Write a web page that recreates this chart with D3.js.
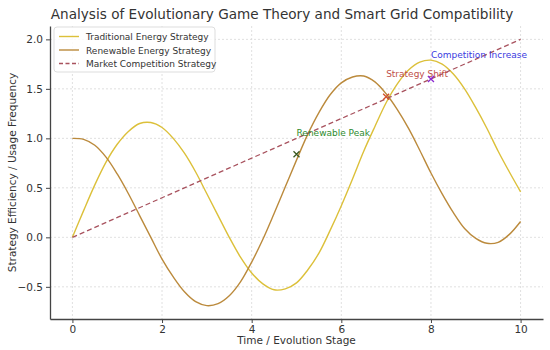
<!DOCTYPE html>
<html lang="en">
<head>
<meta charset="UTF-8">
<title>Evolutionary Game Theory and Smart Grid</title>
<style>
  body { margin: 0; background: #fff; }
  text { font-family: "DejaVu Sans", sans-serif; }
</style>
</head>
<body>
<script src="https://d3js.org/d3.v7.min.js"></script>
<div id="chart"></div>
<script>

// stages (time axis), sampled every 0.25
const stages = d3.range(41).map(i => i * 0.25);

const traditional = [0.00, 0.27, 0.53, 0.76, 0.94, 1.07, 1.15, 1.16, 1.11, 1.00,
  0.85, 0.66, 0.44, 0.22, 0.00, -0.20, -0.36, -0.47, -0.53, -0.52,
  -0.46, -0.33, -0.16, 0.07, 0.32, 0.59, 0.87, 1.12, 1.36, 1.55,
  1.69, 1.77, 1.79, 1.75, 1.65, 1.50, 1.31, 1.10, 0.87, 0.66, 0.46];

const renewable = [1.00, 0.99, 0.93, 0.81, 0.64, 0.44, 0.22, 0.00, -0.22, -0.40,
  -0.55, -0.65, -0.69, -0.67, -0.59, -0.45, -0.25, -0.02, 0.24, 0.51,
  0.78, 1.04, 1.26, 1.44, 1.56, 1.62, 1.63, 1.57, 1.45, 1.29,
  1.10, 0.88, 0.65, 0.44, 0.25, 0.09, -0.01, -0.06, -0.05, 0.03, 0.16];

const marketStages = [0, 2, 4, 6, 8, 10];
const market = [0.0, 0.4, 0.8, 1.2, 1.6, 2.0];

const xTicks = [0, 2, 4, 6, 8, 10];
const yTicks = [-0.5, 0.0, 0.5, 1.0, 1.5, 2.0];

// annotations : label, point marked, label position, colours
const notes = [
  {label: "Renewable Peak", px: 5, py: 0.84, tx: 5, ty: 1.02, color: "#2e8b2e", mark: "#3a5a20"},
  {label: "Strategy Shift", px: 7, py: 1.42, tx: 7, ty: 1.62, color: "#c0504a", mark: "#d0502a"},
  {label: "Competition Increase", px: 8, py: 1.6, tx: 8, ty: 1.81, color: "#3a3ae0", mark: "#8a2ad0"}
];

const width = 550, height = 350;
const margin = {top: 26, right: 7, bottom: 31, left: 50};

const svg = d3.select("#chart").append("svg")
  .attr("width", width)
  .attr("height", height);

const x = d3.scaleLinear()
  .domain([-0.5, 10.5])
  .range([margin.left, width - margin.right]);

const y = d3.scaleLinear()
  .domain([-0.825, 2.135])
  .range([height - margin.bottom, margin.top]);

// grid
svg.append("g")
  .selectAll("line")
  .data(xTicks)
  .join("line")
  .attr("x1", d => x(d)).attr("x2", d => x(d))
  .attr("y1", margin.top).attr("y2", height - margin.bottom)
  .attr("stroke", "#d8d8d8").attr("stroke-width", 0.8)
  .attr("stroke-dasharray", "2,2");

svg.append("g")
  .selectAll("line")
  .data(yTicks)
  .join("line")
  .attr("x1", margin.left).attr("x2", width - margin.right)
  .attr("y1", d => y(d)).attr("y2", d => y(d))
  .attr("stroke", "#d8d8d8").attr("stroke-width", 0.8)
  .attr("stroke-dasharray", "2,2");

// axes
const xAxis = svg.append("g")
  .attr("transform", `translate(0,${height - margin.bottom})`)
  .call(d3.axisBottom(x).tickValues(xTicks).tickFormat(d3.format("d"))
    .tickSize(4).tickSizeOuter(0).tickPadding(3));

const yAxis = svg.append("g")
  .attr("transform", `translate(${margin.left},0)`)
  .call(d3.axisLeft(y).tickValues(yTicks)
    .tickFormat(d => d < 0 ? "\u2212" + Math.abs(d).toFixed(1) : d.toFixed(1))
    .tickSize(4).tickSizeOuter(0).tickPadding(3));

[xAxis, yAxis].forEach(a => {
  a.select(".domain").attr("stroke", "#444").attr("stroke-width", 1.3);
  a.selectAll(".tick line").attr("stroke", "#444");
  a.selectAll(".tick text").attr("fill", "#333").style("font-size", "10.5px");
});

// lines
const line = d3.line()
  .x(d => x(d[0]))
  .y(d => y(d[1]))
  .curve(d3.curveCatmullRom);

svg.append("path")
  .datum(d3.zip(stages, traditional))
  .attr("fill", "none")
  .attr("stroke", "#dcc03a")
  .attr("stroke-width", 1.4)
  .attr("d", line);

svg.append("path")
  .datum(d3.zip(stages, renewable))
  .attr("fill", "none")
  .attr("stroke", "#bb8a3c")
  .attr("stroke-width", 1.4)
  .attr("d", line);

svg.append("path")
  .datum(d3.zip(marketStages, market))
  .attr("fill", "none")
  .attr("stroke", "#a8525e")
  .attr("stroke-width", 1.3)
  .attr("stroke-dasharray", "5,3")
  .attr("d", d3.line().x(d => x(d[0])).y(d => y(d[1])));

// annotations
const ann = svg.append("g");
notes.forEach(n => {
  const cx = x(n.px), cy = y(n.py), s = 3;
  ann.append("path")
    .attr("d", `M${cx - s},${cy - s}L${cx + s},${cy + s}M${cx - s},${cy + s}L${cx + s},${cy - s}`)
    .attr("stroke", n.mark).attr("stroke-width", 1.3);
  ann.append("text")
    .attr("x", x(n.tx)).attr("y", y(n.ty))
    .attr("fill", n.color)
    .style("font-size", "9px")
    .text(n.label);
});

// title and labels
svg.append("text")
  .attr("x", 282)
  .attr("y", 19)
  .attr("text-anchor", "middle")
  .attr("fill", "#333")
  .style("font-size", "13.6px")
  .text("Analysis of Evolutionary Game Theory and Smart Grid Compatibility");

svg.append("text")
  .attr("x", (margin.left + width - margin.right) / 2)
  .attr("y", 344)
  .attr("text-anchor", "middle")
  .attr("fill", "#333")
  .style("font-size", "10.5px")
  .text("Time / Evolution Stage");

svg.append("text")
  .attr("transform", `translate(16,${(margin.top + height - margin.bottom) / 2}) rotate(-90)`)
  .attr("text-anchor", "middle")
  .attr("fill", "#333")
  .style("font-size", "10.5px")
  .text("Strategy Efficiency / Usage Frequency");

// legend
const legendItems = [
  {name: "Traditional Energy Strategy", color: "#dcc03a", dash: null},
  {name: "Renewable Energy Strategy", color: "#bb8a3c", dash: null},
  {name: "Market Competition Strategy", color: "#a8525e", dash: "4,2.5"}
];

const legend = svg.append("g").attr("transform", "translate(54,27)");
legend.append("rect")
  .attr("width", 161).attr("height", 45).attr("rx", 3)
  .attr("fill", "#fff").attr("fill-opacity", 0.85)
  .attr("stroke", "#ddd");

legendItems.forEach((d, i) => {
  const g = legend.append("g").attr("transform", `translate(5,${9.5 + i * 13.5})`);
  g.append("line")
    .attr("x1", 0).attr("x2", 20)
    .attr("stroke", d.color).attr("stroke-width", 1.4)
    .attr("stroke-dasharray", d.dash);
  g.append("text")
    .attr("x", 27).attr("y", 3.5)
    .attr("fill", "#333")
    .style("font-size", "9px")
    .text(d.name);
});

</script>
</body>
</html>
